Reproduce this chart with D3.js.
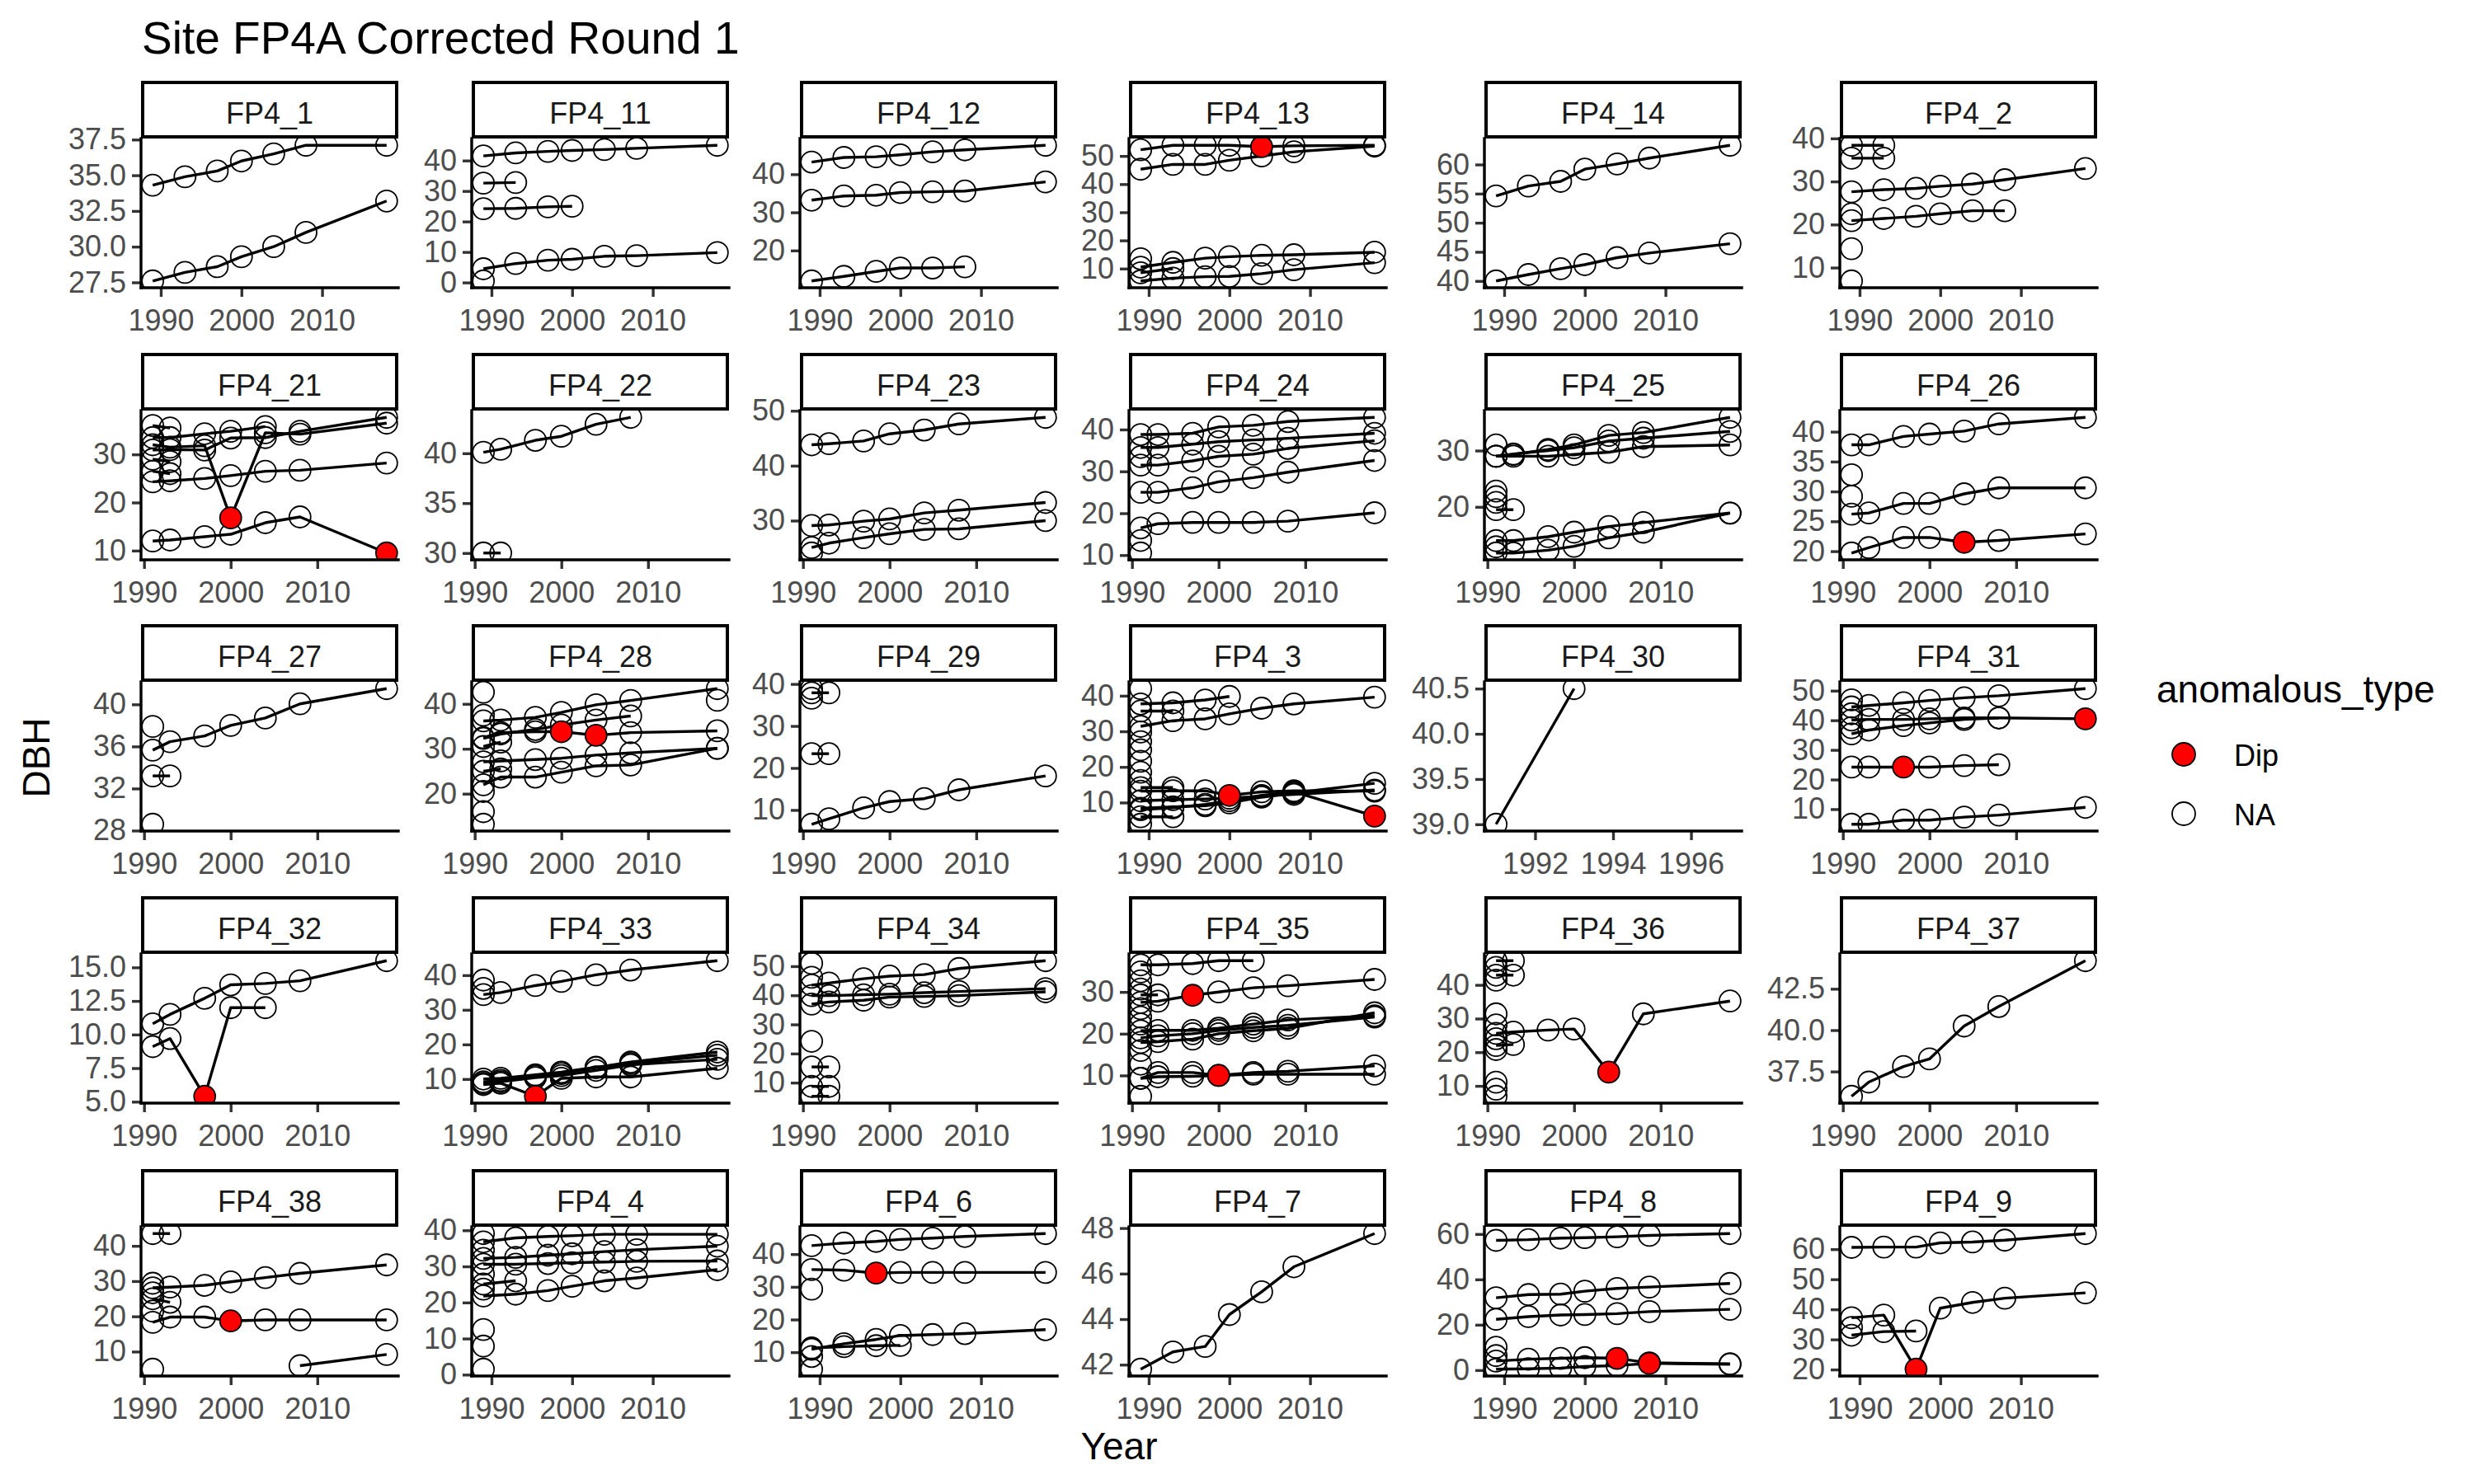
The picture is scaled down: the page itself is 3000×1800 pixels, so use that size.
<!DOCTYPE html>
<html><head><meta charset="utf-8">
<script src="https://cdn.jsdelivr.net/npm/d3@7"></script>
<style>body{margin:0;background:#fff}</style>
</head><body>
<svg id="chart" width="3000" height="1800"></svg>
<script>
// ---------------- DATA ----------------
const panelNames = ["FP4_1","FP4_11","FP4_12","FP4_13","FP4_14","FP4_2",
  "FP4_21","FP4_22","FP4_23","FP4_24","FP4_25","FP4_26",
  "FP4_27","FP4_28","FP4_29","FP4_3","FP4_30","FP4_31",
  "FP4_32","FP4_33","FP4_34","FP4_35","FP4_36","FP4_37",
  "FP4_38","FP4_4","FP4_6","FP4_7","FP4_8","FP4_9"];
const yearsFrom89 = [1989, 1993, 1997, 2000, 2004, 2008, 2018];
const yearsFrom91 = [1991, 1993, 1997, 2000, 2004, 2008, 2018];
const firstYear = [1989,1989,1989,1989,1989,1989, 1991,1991,1991,1991,1991,1991,
  1991,1991,1991,1989,1991,1991, 1991,1991,1991,1991,1991,1991, 1991,1989,1989,1989,1989,1989];
const lastYear = [2018,2018,2018,2018,2018,2018, 2018,2018,2018,2018,2018,2018,
  2018,2018,2018,2018,1997,2018, 2018,2018,2018,2018,2018,2018, 2018,2018,2018,2018,2018,2018];
const xTicksDefault = [1990, 2000, 2010];
const xTicksFP4_30 = [1992, 1994, 1996];
const yTicks = [
  [27.5,30,32.5,35,37.5],[0,10,20,30,40],[20,30,40],[10,20,30,40,50],[40,45,50,55,60],[10,20,30,40],
  [10,20,30],[30,35,40],[30,40,50],[10,20,30,40],[20,30],[20,25,30,35,40],
  [28,32,36,40],[20,30,40],[10,20,30,40],[10,20,30,40],[39,39.5,40,40.5],[10,20,30,40,50],
  [5,7.5,10,12.5,15],[10,20,30,40],[10,20,30,40,50],[10,20,30],[10,20,30,40],[37.5,40,42.5],
  [10,20,30,40],[0,10,20,30,40],[10,20,30,40],[42,44,46,48],[0,20,40,60],[20,30,40,50,60]
];

// DBH per tree, aligned with the panel's year list (missing = null / omitted)
const fp4_1 = [[34.3,34.9,35.3,36.0,36.5,37.1,37.1],[27.6,28.2,28.6,29.3,30.0,31.0,33.2]];
const fp4_11 = [[41.5,42.5,43.0,43.3,43.6,44.0,45.0],[32.6,32.8],[24.2,24.3,24.8,25.0],
  [4.5,6.2,7.3,7.6,8.6,8.8,9.8],[0.5]];
const fp4_12 = [[43.2,44.4,44.6,45.1,45.9,46.4,47.6],[33.2,34.3,34.5,35.2,35.4,35.6,38.0],
  [12.0,13.2,14.5,15.4,15.4,15.7]];
const fp4_13 = [[52.2,53.8,53.8,53.8,53.3,53.6,53.8],[45.3,47.0,47.0,48.5,50.0,51.5,53.5],
  [10.5,12.2,13.7,14.2,14.7,14.9,15.8],[5.6,6.6,7.1,7.2,8.2,9.6,12.1],[8.5,10.0],[13.5]];
const fp4_14 = [[54.6,56.3,57.1,59.2,60.1,61.1,63.3],[40.0,41.1,42.1,42.8,44.0,44.8,46.4]];
const fp4_2 = [[38.4,38.4],[35.4,35.4],[27.6,28.1,28.4,28.9,29.4,30.4,33.0],
  [20.9,21.4,21.9,22.5,23.2,23.2],[22.5],[14.4],[6.9]];
const fp4_21 = [[33.5,33.5,34.3,34.8,35.8],[30.9,31.0,30.9,33.4,33.5,34.8,37.7],
  [32.0,31.5,31.8,16.8,34.5,34.2,36.5],[24.3,24.5,25.0,25.6,26.5,26.7,28.2],
  [12.0,12.2,12.9,13.4,15.8,17.0,9.5],[36.0,35.5],[29.0,28.5],[26.5,26.0]];
const fp4_22 = [[40.1,40.4,41.3,41.7,42.9,43.6],[30.0,30.0]];
const fp4_23 = [[43.8,44.0,44.5,45.8,46.5,47.6,48.8],[29.1,29.2,29.9,30.3,31.4,31.9,33.3],
  [25.1,25.9,26.9,27.6,28.4,28.5,30.0],[24.1]];
const fp4_24 = [[38.8,38.8,39.1,40.6,41.0,41.9,42.9],[35.7,35.7,36.5,37.1,37.5,37.9,39.1],
  [31.5,31.5,32.5,33.6,34.1,35.5,37.3],[25.0,25.0,26.1,27.5,28.5,29.8,32.6],
  [16.5,17.5,17.8,17.8,17.8,18.1,20.1],[10.5],[13.5],[33.5]];
const fp4_25 = [[29.0,29.3,30.2,31.0,32.7,33.2,35.9],[29.0,29.4,30.0,30.5,31.7,32.2,33.4],
  [29.0,29.0,29.0,29.3,29.7,30.7,31.0],[19.5,19.5],[22.8],[21.8],[20.8],[31.0],
  [14.0,14.0,14.7,15.5,16.5,17.2,18.9],[11.8,11.8,12.3,13.0,14.5,15.5,18.9],[12.9]];
const fp4_26 = [[37.8,37.8,39.2,39.6,40.1,41.3,42.4],[26.2,26.4,28.0,28.0,29.6,30.6,30.6],
  [19.7,20.6,22.3,22.3,21.5,21.8,22.9],[32.8],[29.2]];
const fp4_27 = [[35.65,36.45,37.0,38.0,38.7,40.05,41.5],[33.2,33.2],[37.9],[28.6]];
const fp4_28 = [[36.2,36.4,37.0,38.1,39.8,40.75,43.4],[32.3,33.3,34.3,35.3,36.4,37.3],
  [32.5,33.6,33.8,33.8,33.0,33.6,34.0],[27.1,27.3,27.6,27.9,28.6,29.1,30.1],
  [22.0,23.7,23.7,24.8,26.2,26.4,30.1],[30.5,31.5],[25.0,25.5],
  [42.6],[37.5],[20.5],[16.0],[13.2],[null,null,null,null,null,null,40.8]];
const fp4_29 = [[6.6,7.9,10.5,12.0,12.7,14.8,18.1],[37.9,37.9],[23.4,23.4],[38.9],[36.6]];
const fp4_3 = [[37.7,38.0,38.8,39.8],[35.7,35.7],[31.4,33.0,33.5,34.9,36.5,37.7,39.6],
  [13.2,13.3,13.3,12.0,13.0,13.3,13.2],[8.4,8.8,9.1,9.9,11.5,12.7,15.4],
  [8.0,8.5,9.5,10.5,12.0,13.0,6.2],[6.0,6.0],[14.2,14.2],
  [10.5,10.8,11.0,11.2,11.8,12.3,13.5],
  [42.0],[29.8],[27.1],[24.8],[21.6],[18.5],[16.2],[3.9]];
const fp4_30 = [[39.0,40.5]];
const fp4_31 = [[44.5,45.0,45.9,46.7,47.6,48.3,50.7],[40.1,40.3,40.3,40.5,40.8,40.8,40.5],
  [35.4,36.7,38.2,39.1,40.3,40.8],[24.2,24.2,24.2,24.2,24.7,25.0],
  [4.9,4.9,6.3,6.3,7.3,8.0,10.6],[46.9],[42.2],[37.5]];
const fp4_32 = [[10.8,11.5,12.7,13.7,13.8,14.0,15.5],[9.1,9.7,5.4,12.0,12.0]];
const fp4_33 = [[34.4,35.0,37.0,38.2,40.1,41.5,44.2],[9.2,9.6,10.8,11.6,13.3,14.9,17.8],
  [10.0,10.2,11.2,12.0,13.4,14.5,16.9],[8.8,9.2,10.4,11.0,12.5,14.1,15.7],
  [8.4,8.8,5.0,10.2,10.6,10.6,13.1],[38.6],[36.2]];
const fp4_34 = [[43.5,44.2,45.7,46.6,47.1,49.2,51.9],[39.9,39.9,40.2,40.4,40.9,41.3,42.3],
  [37.0,37.7,38.3,39.4,39.6,39.9,41.2],[15.4,15.4],[8.7,8.7],[5.3,5.3],[51.0],[46.2],[24.2]];
const fp4_35 = [[36.5,36.5,36.8,37.5,37.5],[29.3,29.3],[27.5,27.8,29.2,30.0,31.0,31.5,33.0],
  [20.7,20.8,20.8,21.3,22.3,23.3,24.3],[17.9,18.1,18.7,20.0,20.7,21.3,25.0],
  [19.0,19.5,20.0,20.8,21.5,22.0,24.0],[9.3,10.7,10.7,10.0,10.7,11.0,12.3],
  [9.3,9.7,9.8,10.0,10.3,10.3,10.3],
  [34.8],[32.7],[30.7],[26.0],[24.0],[22.3],[16.0],[12.7],[5.0]];
const fp4_36 = [[25.6,26.0,26.6,26.9,14.1,31.4,35.2],[47.2,47.2],[42.9,42.9],[22.0,22.3],
  [45.2],[41.4],[31.4],[28.1],[24.0],[20.8],[11.1],[9.0],[6.9]];
const fp4_37 = [[36.0,36.86,37.8,38.26,40.25,41.43,44.2]];
const fp4_38 = [[28.1,28.3,28.8,29.8,31.0,32.2,34.6],[18.3,19.8,19.8,18.7,19.0,19.0,19.0],
  [null,null,null,null,null,6.0,9.2],[43.5,43.5],[25.0,24.0],[29.4],[26.7],[21.5],[5.0]];
const fp4_4 = [[36.8,37.9,38.3,38.5,38.9,38.9,38.9],[32.2,32.5,33.1,33.5,34.1,34.6,35.6],
  [30.6,30.6,30.8,31.0,31.2,31.4,31.5],[21.8,22.3,23.3,24.5,26.0,26.8,29.1],[25.1,26.0],
  [39.1],[34.5],[27.9],[23.7],[12.5],[7.9],[1.5]];
const fp4_6 = [[42.6,43.4,43.9,44.5,44.9,45.4,46.3],[35.3,35.1,34.2,34.4,34.4,34.4,34.4],
  [10.9,12.6,13.9,15.1,15.4,15.7,16.9],[11.3,11.7,12.0,12.1],[29.3],[8.7],[4.8]];
const fp4_7 = [[41.8,42.56,42.8,44.2,45.2,46.3,47.76]];
const fp4_8 = [[57.2,57.5,58.2,58.4,58.8,59.4,60.2],[31.9,33.3,33.5,34.8,36.0,36.6,38.2],
  [22.4,23.6,24.3,24.5,24.9,25.8,26.8],[4.0,4.8,5.2,5.5,5.2,3.2,2.8],
  [0.4,0.6,0.9,1.6,2.0,3.0,2.6],[10.1],[6.4]];
const fp4_9 = [[60.6,60.7,60.7,62.1,62.4,63.0,65.2],[37.2,38.1,20.1,40.4,42.3,43.7,45.5],
  [31.4,32.6,32.8],[34.0]];

const dbhByPanel = [fp4_1, fp4_11, fp4_12, fp4_13, fp4_14, fp4_2,
  fp4_21, fp4_22, fp4_23, fp4_24, fp4_25, fp4_26,
  fp4_27, fp4_28, fp4_29, fp4_3, fp4_30, fp4_31,
  fp4_32, fp4_33, fp4_34, fp4_35, fp4_36, fp4_37,
  fp4_38, fp4_4, fp4_6, fp4_7, fp4_8, fp4_9];

// anomalous_type == "Dip": [panel, tree index, year index]
const dipPoints = [["FP4_13",0,4],["FP4_21",2,3],["FP4_21",4,6],["FP4_26",2,4],
  ["FP4_28",2,3],["FP4_28",2,4],["FP4_3",3,3],["FP4_3",5,6],["FP4_31",1,6],["FP4_31",3,2],
  ["FP4_32",1,2],["FP4_33",4,2],["FP4_35",2,2],["FP4_35",6,3],["FP4_36",0,4],
  ["FP4_38",1,3],["FP4_6",1,2],["FP4_8",3,4],["FP4_8",4,5],["FP4_9",1,2]];
const legendLabels = ["Dip", "NA"];

// ---------------- LAYOUT / STYLE ----------------
const FONT = '"Liberation Sans", Arial, Helvetica, sans-serif';
const W = 312, stripH = 70, panelH = 181;
const colLeft = [171, 572, 970, 1369, 1800, 2231];
const rowTop = [98, 428, 757, 1087, 1418];
const LW = 3.4, R = 13;

const svg = d3.select("#chart").attr("font-family", FONT);
svg.append("rect").attr("width", 3000).attr("height", 1800).attr("fill", "#fff");

panelNames.forEach((name, i) => {
  const col = i % 6, row = Math.floor(i / 6);
  const left = colLeft[col], top = rowTop[row] + stripH;
  const g = svg.append("g").attr("transform", `translate(${left},${top})`);
  const yrs = firstYear[i] === 1989 ? yearsFrom89 : yearsFrom91;
  const trees = dbhByPanel[i];
  const x0 = firstYear[i], x1 = lastYear[i], xp = (x1 - x0) * 0.05;
  const x = d3.scaleLinear().domain([x0 - xp, x1 + xp]).range([0, W]);
  const vals = trees.flat().filter(v => v != null);
  const [lo, hi] = d3.extent(vals);
  const yp = (hi - lo) * 0.05;
  const y = d3.scaleLinear().domain([lo - yp, hi + yp]).range([panelH, 0]);

  g.append("clipPath").attr("id", "clip" + i).append("rect")
    .attr("width", W).attr("height", panelH);
  const plot = g.append("g").attr("clip-path", `url(#clip${i})`);

  const line = d3.line().defined(d => d.v != null).x(d => x(d.yr)).y(d => y(d.v));
  const pts = [];
  trees.forEach((t, ti) => {
    const seq = yrs.map((yr, k) => ({ yr, v: (t[k] == null ? null : t[k]), k, ti }));
    const valid = seq.filter(d => d.v != null);
    if (valid.length > 1) {
      plot.append("path").attr("d", line(seq)).attr("fill", "none")
        .attr("stroke", "#000").attr("stroke-width", LW)
        .attr("stroke-linejoin", "round").attr("stroke-linecap", "butt");
    }
    valid.forEach(d => {
      d.dip = dipPoints.some(p => p[0] === name && p[1] === ti && p[2] === d.k);
      pts.push(d);
    });
  });
  const ordered = pts.filter(d => !d.dip).concat(pts.filter(d => d.dip));
  plot.selectAll("circle.pt").data(ordered).join("circle").attr("class", "pt")
    .attr("cx", d => x(d.yr)).attr("cy", d => y(d.v)).attr("r", R)
    .attr("fill", d => d.dip ? "#FF0000" : "none")
    .attr("stroke", "#000").attr("stroke-width", 1.8);

  // axes
  const ticks = yTicks[i];
  const fmt = ticks.some(v => !Number.isInteger(v)) ? d3.format(".1f") : d3.format("d");
  const ya = g.append("g").call(d3.axisLeft(y).tickValues(ticks).tickFormat(fmt)
    .tickSize(11).tickPadding(7));
  ya.select(".domain").remove();
  ya.attr("font-family", FONT).attr("font-size", 36);
  ya.selectAll(".tick line").attr("stroke", "#333333").attr("stroke-width", LW);
  ya.selectAll(".tick text").attr("fill", "#4D4D4D");

  const xt = name === "FP4_30" ? xTicksFP4_30 : xTicksDefault;
  const xa = g.append("g").attr("transform", `translate(0,${panelH})`)
    .call(d3.axisBottom(x).tickValues(xt).tickFormat(d3.format("d")).tickSize(11).tickPadding(15));
  xa.select(".domain").remove();
  xa.attr("font-family", FONT).attr("font-size", 36);
  xa.selectAll(".tick line").attr("stroke", "#333333").attr("stroke-width", LW);
  xa.selectAll(".tick text").attr("fill", "#4D4D4D");

  g.append("line").attr("x1", 0).attr("x2", 0).attr("y1", 0).attr("y2", panelH)
    .attr("stroke", "#000").attr("stroke-width", LW).attr("stroke-linecap", "square");
  g.append("line").attr("x1", 0).attr("x2", W).attr("y1", panelH).attr("y2", panelH)
    .attr("stroke", "#000").attr("stroke-width", LW).attr("stroke-linecap", "square");

  // strip
  g.append("rect").attr("x", 2).attr("y", -stripH + 2).attr("width", W - 4).attr("height", stripH - 4)
    .attr("fill", "#fff").attr("stroke", "#000").attr("stroke-width", 4);
  g.append("text").attr("x", W / 2).attr("y", -18).attr("text-anchor", "middle")
    .attr("font-size", 36).attr("fill", "#1A1A1A").text(name);
});

// titles
svg.append("text").attr("x", 172).attr("y", 65).attr("font-size", 55).attr("fill", "#000")
  .text("Site FP4A Corrected Round 1");
svg.append("text").attr("x", 1357).attr("y", 1770).attr("text-anchor", "middle")
  .attr("font-size", 46).attr("fill", "#000").text("Year");
svg.append("text").attr("transform", "translate(60,919) rotate(-90)").attr("text-anchor", "middle")
  .attr("font-size", 46).attr("fill", "#000").text("DBH");

// legend
const lg = svg.append("g");
lg.append("text").attr("x", 2615).attr("y", 852).attr("font-size", 46).attr("fill", "#000")
  .text("anomalous_type");
legendLabels.forEach((lab, k) => {
  const cy = 915 + k * 72;
  lg.append("circle").attr("cx", 2648).attr("cy", cy).attr("r", 14)
    .attr("fill", lab === "Dip" ? "#FF0000" : "#fff").attr("stroke", "#000").attr("stroke-width", 1.8);
  lg.append("text").attr("x", 2709).attr("y", cy + 14).attr("font-size", 36).attr("fill", "#000").text(lab);
});
</script>
</body></html>
